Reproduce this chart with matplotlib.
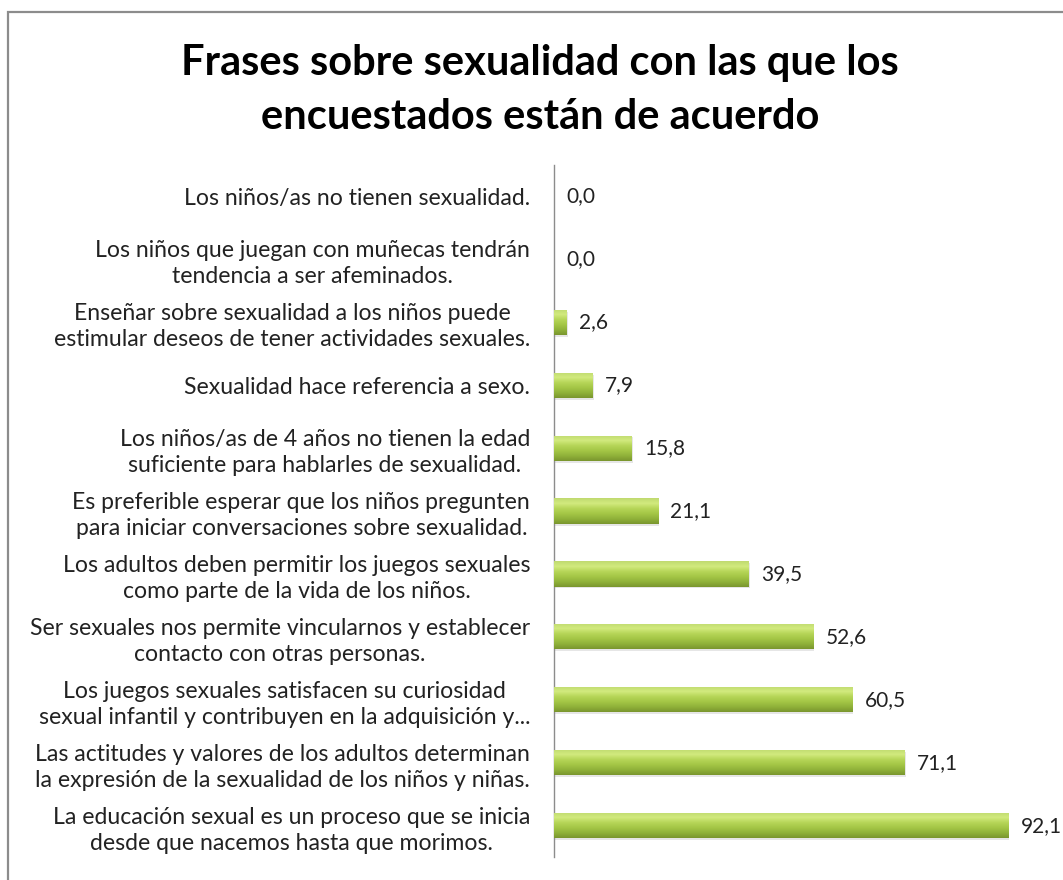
import numpy as np
import matplotlib
matplotlib.use("Agg")
import matplotlib.pyplot as plt
from matplotlib.colors import LinearSegmentedColormap
from matplotlib.patches import Rectangle

plt.rcParams["font.family"] = ["Lato", "DejaVu Sans"]

# data (bottom to top as drawn by barh)
frases = [
    "La educación sexual es un proceso que se inicia\ndesde que nacemos hasta que morimos.",
    "Las actitudes y valores de los adultos determinan\nla expresión de la sexualidad de los niños y niñas.",
    "Los juegos sexuales satisfacen su curiosidad\nsexual infantil y contribuyen en la adquisición y...",
    "Ser sexuales nos permite vincularnos y establecer\ncontacto con otras personas.",
    "Los adultos deben permitir los juegos sexuales\ncomo parte de la vida de los niños.",
    "Es preferible esperar que los niños pregunten\npara iniciar conversaciones sobre sexualidad.",
    "Los niños/as de 4 años no tienen la edad\nsuficiente para hablarles de sexualidad.",
    "Sexualidad hace referencia a sexo.",
    "Enseñar sobre sexualidad a los niños puede\nestimular deseos de tener actividades sexuales.",
    "Los niños que juegan con muñecas tendrán\ntendencia a ser afeminados.",
    "Los niños/as no tienen sexualidad.",
]
porcentajes = [92.1, 71.1, 60.5, 52.6, 39.5, 21.1, 15.8, 7.9, 2.6, 0.0, 0.0]

titulo = "Frases sobre sexualidad con las que los\nencuestados están de acuerdo"

fig = plt.figure(figsize=(10.63, 8.8), dpi=100)
ax = fig.add_axes([0.521, 0.026, 0.464, 0.7865])

# marco gris del grafico
fig.patches.append(Rectangle((0.0075, -0.2), 1.5, 0.2 + 0.986, transform=fig.transFigure,
                             fill=False, edgecolor="#8c8c8c", linewidth=1.6))

ypos = np.arange(len(frases))
bars = ax.barh(ypos, porcentajes, height=0.40, color="#a6c848", edgecolor="none", zorder=2)

# degradado tipo bisel en cada barra
cmap = LinearSegmentedColormap.from_list(
    "verde", ["#7a962e", "#90b23a", "#a4c646", "#b6d658", "#d2ea7e", "#c0da70"])
grad = np.linspace(0, 1, 64).reshape(-1, 1)
for b in bars:
    w = b.get_width()
    if w <= 0:
        continue
    x0, y0, h = b.get_x(), b.get_y(), b.get_height()
    # sombra suave
    ax.add_patch(Rectangle((x0, y0 - 0.03), w + 0.25, h, color="#e6e6e6", zorder=1, lw=0))
    im = ax.imshow(grad, cmap=cmap, aspect="auto", origin="lower",
                   extent=(x0, x0 + w, y0, y0 + h), zorder=3)
    im.set_clip_path(b)

for b, v in zip(bars, porcentajes):
    ax.annotate(f"{v:.1f}".replace(".", ","), (b.get_width(), b.get_y() + b.get_height() / 2),
                xytext=(9, 0), textcoords="offset points", va="center", ha="left",
                fontsize=15, color="#222222")

ax.set_xlim(0, 100)
ax.set_ylim(-0.5, len(frases) - 0.5)
ax.set_yticks(ypos)
ax.set_yticklabels(frases, fontsize=16.6, color="#222222", linespacing=1.3)
for t in ax.get_yticklabels():
    t.set_multialignment("center")
ax.tick_params(axis="y", length=0, pad=17)
ax.set_xticks([])
for s in ["top", "right", "bottom"]:
    ax.spines[s].set_visible(False)
ax.spines["left"].set_color("#8c8c8c")
ax.spines["left"].set_linewidth(1.0)
ax.set_facecolor("none")

fig.text(0.508, 0.898, titulo, ha="center", va="center", fontsize=30, fontweight="bold",
         linespacing=1.5, color="black")

fig.savefig("out.png", dpi=100)
